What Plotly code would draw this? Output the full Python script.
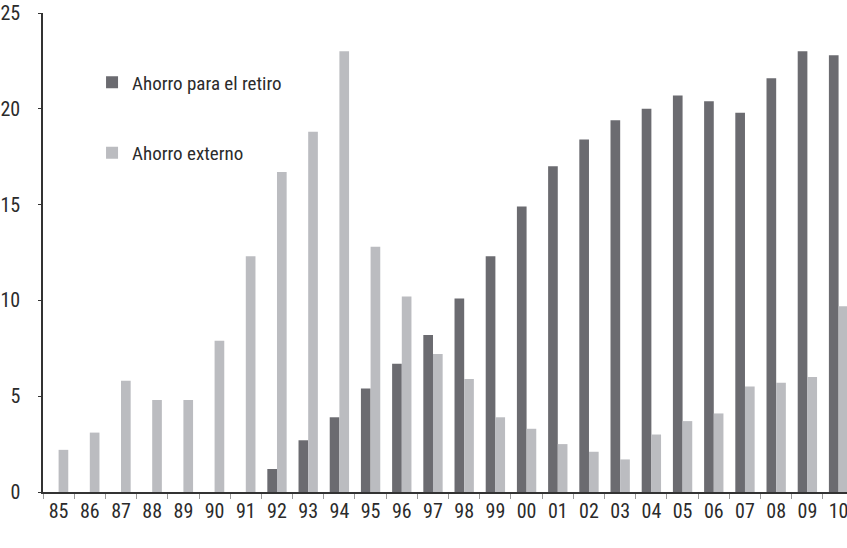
import plotly.graph_objects as go

years = ["85", "86", "87", "88", "89", "90", "91", "92", "93", "94", "95", "96", "97",
         "98", "99", "00", "01", "02", "03", "04", "05", "06", "07", "08", "09", "10"]

ahorro_retiro = [0, 0, 0, 0, 0, 0, 0, 1.2, 2.7, 3.9, 5.4, 6.7, 8.2,
                 10.1, 12.3, 14.9, 17.0, 18.4, 19.4, 20.0, 20.7, 20.4, 19.8, 21.6, 23.0, 22.8]

ahorro_externo = [2.2, 3.1, 5.8, 4.8, 4.8, 7.9, 12.3, 16.7, 18.8, 23.0, 12.8, 10.2, 7.2,
                  5.9, 3.9, 3.3, 2.5, 2.1, 1.7, 3.0, 3.7, 4.1, 5.5, 5.7, 6.0, 9.7]

y_ticks = [0, 5, 10, 15, 20, 25]

FONT = "Roboto Condensed, DejaVu Sans Condensed, sans-serif"

fig = go.Figure()
fig.add_trace(go.Bar(x=years, y=ahorro_retiro, name="Ahorro para el retiro",
                     marker=dict(color="#6b6b70", line=dict(width=0)),
                     legendgroup="a"))
fig.add_trace(go.Bar(x=years, y=ahorro_externo, name="Ahorro externo",
                     marker=dict(color="#bbbcc0", line=dict(width=0)),
                     legendgroup="b"))

fig.update_layout(
    width=847, height=548,
    margin=dict(l=43, r=0, t=13, b=56),
    paper_bgcolor="white", plot_bgcolor="white",
    barmode="group", bargap=0.38, bargroupgap=0,
    font=dict(family=FONT, size=19, color="#2b2b2b"),
    showlegend=True,
    legend=dict(x=0.061, y=0.895, xanchor="left", yanchor="top",
                bgcolor="rgba(0,0,0,0)", tracegroupgap=43,
                font=dict(family=FONT, size=19, color="#2b2b2b"),
                itemsizing="constant"),
    xaxis=dict(type="category", range=[-0.5, 25.27],
               showline=True, linecolor="#333333", linewidth=2,
               ticks="outside", tickson="boundaries", ticklen=5,
               tickcolor="#9a9a9a", tickwidth=1,
               showgrid=False, zeroline=False,
               tickfont=dict(size=20)),
    yaxis=dict(range=[0, 25], tickvals=y_ticks,
               showline=True, linecolor="#333333", linewidth=1.5,
               ticks="outside", ticklen=3, tickcolor="#333333",
               ticklabelstandoff=14,
               showgrid=False, zeroline=False,
               tickfont=dict(size=20)),
)

fig.write_html("out.html")
